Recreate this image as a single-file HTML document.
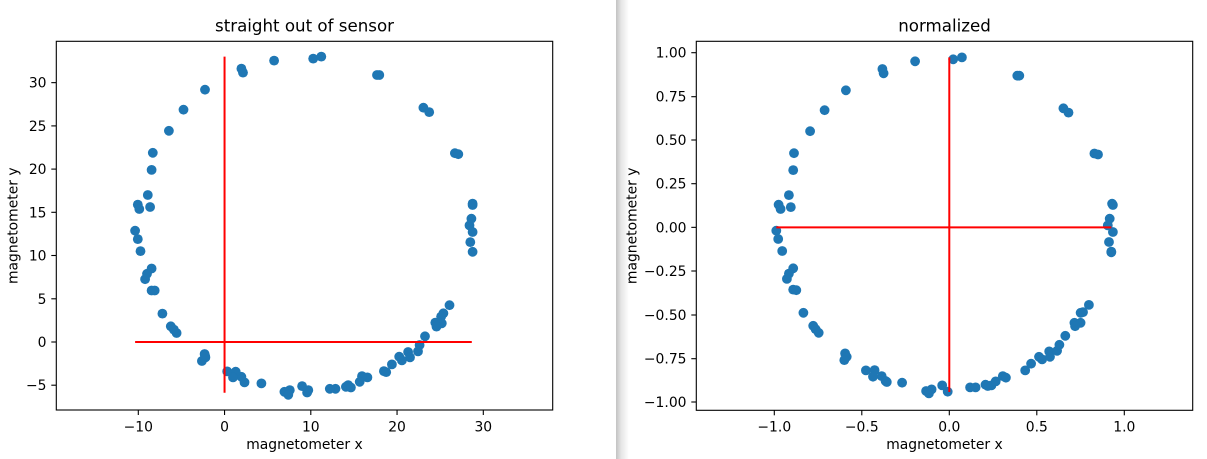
<!DOCTYPE html>
<html><head><meta charset="utf-8"><style>
html,body{margin:0;padding:0;background:#fff;}
svg{display:block;}
text{font-family:"DejaVu Sans","Liberation Sans",sans-serif;fill:#000;}
</style></head><body>
<svg width="1207" height="459" viewBox="0 0 1207 459" xmlns="http://www.w3.org/2000/svg">
<defs>
<linearGradient id="sh" x1="0" x2="1" y1="0" y2="0">
<stop offset="0" stop-color="#000" stop-opacity="0.24"/>
<stop offset="0.4" stop-color="#000" stop-opacity="0.1"/>
<stop offset="1" stop-color="#000" stop-opacity="0"/>
</linearGradient>
</defs>
<rect x="0" y="0" width="1207" height="459" fill="#fff"/>
<rect x="616" y="0" width="13" height="459" fill="url(#sh)"/>

<!-- LEFT PLOT -->
<g fill="#1f77b4">
<circle cx="135.1" cy="230.7" r="4.9"/><circle cx="137.8" cy="239.1" r="4.9"/><circle cx="140.5" cy="251.1" r="4.9"/>
<circle cx="137.8" cy="204.6" r="4.9"/><circle cx="139.3" cy="209.0" r="4.9"/><circle cx="150.1" cy="207.0" r="4.9"/>
<circle cx="147.8" cy="195.0" r="4.9"/><circle cx="151.6" cy="169.9" r="4.9"/><circle cx="152.8" cy="152.8" r="4.9"/>
<circle cx="168.9" cy="130.8" r="4.9"/><circle cx="183.5" cy="109.7" r="4.9"/><circle cx="205.0" cy="89.7" r="4.9"/>
<circle cx="241.4" cy="68.6" r="4.9"/><circle cx="243.0" cy="72.6" r="4.9"/><circle cx="274.1" cy="60.6" r="4.9"/>
<circle cx="313.2" cy="58.6" r="4.9"/><circle cx="321.3" cy="56.6" r="4.9"/><circle cx="377.0" cy="75.0" r="4.9"/>
<circle cx="379.3" cy="75.0" r="4.9"/><circle cx="423.4" cy="107.7" r="4.9"/><circle cx="429.2" cy="112.1" r="4.9"/>
<circle cx="454.9" cy="153.2" r="4.9"/><circle cx="458.3" cy="154.2" r="4.9"/><circle cx="472.6" cy="203.6" r="4.9"/>
<circle cx="472.6" cy="205.0" r="4.9"/><circle cx="471.4" cy="218.7" r="4.9"/><circle cx="469.5" cy="225.4" r="4.9"/>
<circle cx="472.6" cy="232.0" r="4.9"/><circle cx="470.3" cy="242.1" r="4.9"/><circle cx="472.6" cy="251.8" r="4.9"/>
<circle cx="449.5" cy="305.2" r="4.9"/><circle cx="443.4" cy="313.3" r="4.9"/><circle cx="441.1" cy="316.6" r="4.9"/>
<circle cx="435.3" cy="322.6" r="4.9"/><circle cx="441.8" cy="323.3" r="4.9"/><circle cx="436.5" cy="326.6" r="4.9"/>
<circle cx="425.0" cy="336.3" r="4.9"/><circle cx="419.6" cy="345.0" r="4.9"/><circle cx="418.0" cy="351.4" r="4.9"/>
<circle cx="408.1" cy="352.0" r="4.9"/><circle cx="410.0" cy="357.4" r="4.9"/><circle cx="399.2" cy="356.7" r="4.9"/>
<circle cx="401.9" cy="360.4" r="4.9"/><circle cx="391.9" cy="364.4" r="4.9"/><circle cx="383.9" cy="371.1" r="4.9"/>
<circle cx="386.2" cy="372.1" r="4.9"/><circle cx="367.4" cy="377.4" r="4.9"/><circle cx="362.0" cy="376.1" r="4.9"/>
<circle cx="359.7" cy="381.8" r="4.9"/><circle cx="348.2" cy="385.1" r="4.9"/><circle cx="345.9" cy="386.8" r="4.9"/>
<circle cx="350.9" cy="387.5" r="4.9"/><circle cx="335.5" cy="388.8" r="4.9"/><circle cx="329.8" cy="388.8" r="4.9"/>
<circle cx="308.3" cy="390.1" r="4.9"/><circle cx="307.1" cy="392.5" r="4.9"/><circle cx="302.1" cy="386.1" r="4.9"/>
<circle cx="289.8" cy="390.1" r="4.9"/><circle cx="284.4" cy="391.8" r="4.9"/><circle cx="288.3" cy="394.8" r="4.9"/>
<circle cx="261.4" cy="383.4" r="4.9"/><circle cx="244.5" cy="382.4" r="4.9"/><circle cx="241.4" cy="376.8" r="4.9"/>
<circle cx="235.7" cy="371.7" r="4.9"/><circle cx="233.0" cy="377.4" r="4.9"/><circle cx="227.2" cy="371.4" r="4.9"/>
<circle cx="204.6" cy="354.0" r="4.9"/><circle cx="205.4" cy="357.4" r="4.9"/><circle cx="201.9" cy="361.0" r="4.9"/>
<circle cx="205.0" cy="355.7" r="4.9"/>
<circle cx="176.6" cy="333.0" r="4.9"/><circle cx="170.8" cy="326.3" r="4.9"/><circle cx="173.9" cy="329.6" r="4.9"/>
<circle cx="162.4" cy="313.6" r="4.9"/><circle cx="154.7" cy="290.5" r="4.9"/><circle cx="151.6" cy="290.5" r="4.9"/>
<circle cx="151.6" cy="268.5" r="4.9"/><circle cx="147.0" cy="273.8" r="4.9"/><circle cx="145.1" cy="279.2" r="4.9"/>
</g>
<g stroke="#ff0000" stroke-width="2" fill="none">
<line x1="224.55" y1="56.6" x2="224.55" y2="392.8"/>
<line x1="135.1" y1="342" x2="471.8" y2="342"/>
</g>
<rect x="56.3" y="41.3" width="496.4" height="368.7" fill="none" stroke="#000" stroke-width="1.1"/>
<g stroke="#000" stroke-width="1.1">
<line x1="138.3" y1="410" x2="138.3" y2="415"/>
<line x1="224.55" y1="410" x2="224.55" y2="415"/>
<line x1="310.8" y1="410" x2="310.8" y2="415"/>
<line x1="397.05" y1="410" x2="397.05" y2="415"/>
<line x1="483.3" y1="410" x2="483.3" y2="415"/>
<line x1="51.3" y1="385.2" x2="56.3" y2="385.2"/>
<line x1="51.3" y1="342" x2="56.3" y2="342"/>
<line x1="51.3" y1="298.8" x2="56.3" y2="298.8"/>
<line x1="51.3" y1="255.5" x2="56.3" y2="255.5"/>
<line x1="51.3" y1="212.3" x2="56.3" y2="212.3"/>
<line x1="51.3" y1="169.1" x2="56.3" y2="169.1"/>
<line x1="51.3" y1="125.9" x2="56.3" y2="125.9"/>
<line x1="51.3" y1="82.65" x2="56.3" y2="82.65"/>
</g>
<g font-size="13.9" text-anchor="middle">
<text x="138.3" y="431.5">−10</text>
<text x="224.55" y="431.5">0</text>
<text x="310.8" y="431.5">10</text>
<text x="397.05" y="431.5">20</text>
<text x="483.3" y="431.5">30</text>
</g>
<g font-size="13.9" text-anchor="end">
<text x="46.5" y="390.2">−5</text>
<text x="46.5" y="347">0</text>
<text x="46.5" y="303.8">5</text>
<text x="46.5" y="260.5">10</text>
<text x="46.5" y="217.3">15</text>
<text x="46.5" y="174.1">20</text>
<text x="46.5" y="130.9">25</text>
<text x="46.5" y="87.65">30</text>
</g>
<text x="304.5" y="449" font-size="13.9" text-anchor="middle">magnetometer x</text>
<text transform="translate(17.5,225.7) rotate(-90)" font-size="13.9" text-anchor="middle">magnetometer y</text>
<text x="304.5" y="31.7" font-size="16.67" text-anchor="middle">straight out of sensor</text>

<!-- RIGHT PLOT -->
<g fill="#1f77b4">
<circle cx="915.1" cy="61.3" r="4.9"/><circle cx="953.2" cy="59.3" r="4.9"/><circle cx="961.9" cy="57.35" r="4.9"/>
<circle cx="882.4" cy="69.0" r="4.9"/><circle cx="883.6" cy="73.3" r="4.9"/><circle cx="845.9" cy="90.3" r="4.9"/>
<circle cx="824.6" cy="110.2" r="4.9"/><circle cx="810.1" cy="131.2" r="4.9"/><circle cx="794.0" cy="153.2" r="4.9"/>
<circle cx="793.2" cy="170.1" r="4.9"/><circle cx="788.9" cy="195.1" r="4.9"/><circle cx="790.8" cy="207.1" r="4.9"/>
<circle cx="778.6" cy="204.7" r="4.9"/><circle cx="780.6" cy="209.0" r="4.9"/><circle cx="776.3" cy="230.7" r="4.9"/>
<circle cx="778.2" cy="239.0" r="4.9"/><circle cx="782.2" cy="251.0" r="4.9"/><circle cx="793.2" cy="268.3" r="4.9"/>
<circle cx="788.9" cy="273.6" r="4.9"/><circle cx="786.9" cy="278.9" r="4.9"/><circle cx="793.2" cy="289.6" r="4.9"/>
<circle cx="796.3" cy="290.2" r="4.9"/><circle cx="803.4" cy="312.8" r="4.9"/><circle cx="813.2" cy="325.8" r="4.9"/>
<circle cx="815.6" cy="329.2" r="4.9"/><circle cx="818.7" cy="332.8" r="4.9"/><circle cx="845.1" cy="353.4" r="4.9"/>
<circle cx="846.7" cy="356.8" r="4.9"/><circle cx="844.3" cy="360.1" r="4.9"/><circle cx="865.9" cy="370.4" r="4.9"/>
<circle cx="874.6" cy="370.1" r="4.9"/><circle cx="873.0" cy="376.7" r="4.9"/><circle cx="881.7" cy="376.1" r="4.9"/>
<circle cx="885.6" cy="381.0" r="4.9"/><circle cx="886.8" cy="382.0" r="4.9"/><circle cx="902.1" cy="382.7" r="4.9"/>
<circle cx="926.1" cy="391.0" r="4.9"/><circle cx="928.9" cy="393.4" r="4.9"/><circle cx="931.6" cy="389.4" r="4.9"/>
<circle cx="942.2" cy="385.4" r="4.9"/><circle cx="947.7" cy="391.7" r="4.9"/><circle cx="970.1" cy="387.4" r="4.9"/>
<circle cx="975.6" cy="387.4" r="4.9"/><circle cx="985.5" cy="384.7" r="4.9"/><circle cx="987.8" cy="386.0" r="4.9"/>
<circle cx="991.4" cy="385.4" r="4.9"/><circle cx="995.7" cy="381.4" r="4.9"/><circle cx="1002.8" cy="376.1" r="4.9"/>
<circle cx="1005.9" cy="377.7" r="4.9"/><circle cx="1025.2" cy="370.4" r="4.9"/><circle cx="1031.1" cy="363.7" r="4.9"/>
<circle cx="1039.0" cy="356.8" r="4.9"/><circle cx="1042.1" cy="359.4" r="4.9"/><circle cx="1049.2" cy="351.4" r="4.9"/>
<circle cx="1050.0" cy="356.8" r="4.9"/><circle cx="1057.1" cy="350.8" r="4.9"/><circle cx="1059.4" cy="344.8" r="4.9"/>
<circle cx="1065.3" cy="335.8" r="4.9"/><circle cx="1074.4" cy="322.8" r="4.9"/><circle cx="1080.6" cy="322.8" r="4.9"/>
<circle cx="1075.1" cy="326.2" r="4.9"/><circle cx="1080.6" cy="312.8" r="4.9"/><circle cx="1083.0" cy="312.2" r="4.9"/>
<circle cx="1088.9" cy="304.9" r="4.9"/><circle cx="1017.3" cy="75.7" r="4.9"/><circle cx="1019.3" cy="75.7" r="4.9"/>
<circle cx="1063.4" cy="108.3" r="4.9"/><circle cx="1068.5" cy="112.6" r="4.9"/><circle cx="1094.4" cy="153.5" r="4.9"/>
<circle cx="1098.0" cy="154.5" r="4.9"/><circle cx="1112.1" cy="203.7" r="4.9"/><circle cx="1112.9" cy="205.0" r="4.9"/>
<circle cx="1109.7" cy="218.7" r="4.9"/><circle cx="1107.8" cy="225.4" r="4.9"/><circle cx="1112.9" cy="232.0" r="4.9"/>
<circle cx="1109.0" cy="242.0" r="4.9"/><circle cx="1111.3" cy="251.6" r="4.9"/><circle cx="1111.3" cy="252.3" r="4.9"/>
</g>
<g stroke="#ff0000" stroke-width="2" fill="none">
<line x1="949.3" y1="57.35" x2="949.3" y2="392.0"/>
<line x1="776.3" y1="227.35" x2="1111.3" y2="227.35"/>
</g>
<rect x="696.3" y="41.3" width="496.4" height="369" fill="none" stroke="#000" stroke-width="1.1"/>
<g stroke="#000" stroke-width="1.1">
<line x1="774.3" y1="410.3" x2="774.3" y2="415.3"/>
<line x1="861.8" y1="410.3" x2="861.8" y2="415.3"/>
<line x1="949.3" y1="410.3" x2="949.3" y2="415.3"/>
<line x1="1036.8" y1="410.3" x2="1036.8" y2="415.3"/>
<line x1="1124.3" y1="410.3" x2="1124.3" y2="415.3"/>
<line x1="691.3" y1="402.0" x2="696.3" y2="402.0"/>
<line x1="691.3" y1="358.7" x2="696.3" y2="358.7"/>
<line x1="691.3" y1="315.0" x2="696.3" y2="315.0"/>
<line x1="691.3" y1="271.0" x2="696.3" y2="271.0"/>
<line x1="691.3" y1="227.35" x2="696.3" y2="227.35"/>
<line x1="691.3" y1="183.7" x2="696.3" y2="183.7"/>
<line x1="691.3" y1="140.0" x2="696.3" y2="140.0"/>
<line x1="691.3" y1="96.7" x2="696.3" y2="96.7"/>
<line x1="691.3" y1="52.7" x2="696.3" y2="52.7"/>
</g>
<g font-size="13.9" text-anchor="middle">
<text x="774.3" y="431.5">−1.0</text>
<text x="861.8" y="431.5">−0.5</text>
<text x="949.3" y="431.5">0.0</text>
<text x="1036.8" y="431.5">0.5</text>
<text x="1124.3" y="431.5">1.0</text>
</g>
<g font-size="13.9" text-anchor="end">
<text x="686.5" y="407.0">−1.00</text>
<text x="686.5" y="363.7">−0.75</text>
<text x="686.5" y="320.0">−0.50</text>
<text x="686.5" y="276.0">−0.25</text>
<text x="686.5" y="232.35">0.00</text>
<text x="686.5" y="188.7">0.25</text>
<text x="686.5" y="145.0">0.50</text>
<text x="686.5" y="101.7">0.75</text>
<text x="686.5" y="57.7">1.00</text>
</g>
<text x="944.5" y="449" font-size="13.9" text-anchor="middle">magnetometer x</text>
<text transform="translate(636.7,225.8) rotate(-90)" font-size="13.9" text-anchor="middle">magnetometer y</text>
<text x="944.5" y="31.7" font-size="16.67" text-anchor="middle">normalized</text>
</svg>
</body></html>
